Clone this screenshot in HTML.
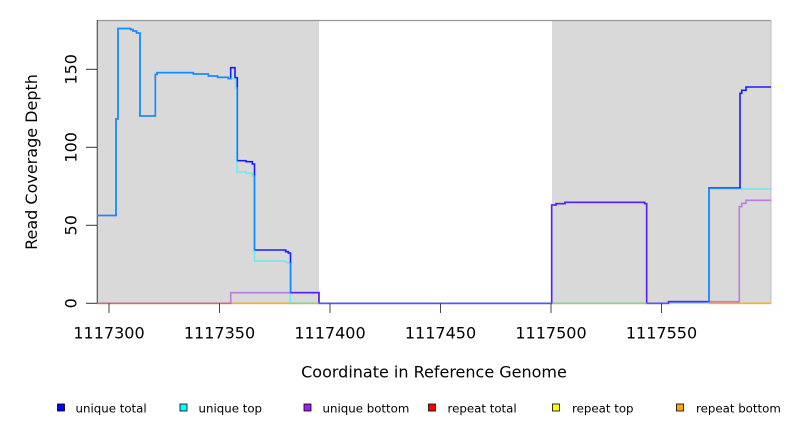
<!DOCTYPE html>
<html><head><meta charset="utf-8"><style>
html,body{margin:0;padding:0;background:#fff;}
svg{display:block;}
text{font-family:"DejaVu Sans","Liberation Sans",sans-serif;fill:#000;}
</style></head><body>
<svg width="792" height="432" viewBox="0 0 792 432" xmlns="http://www.w3.org/2000/svg">
<rect x="0" y="0" width="792" height="432" fill="#fff"/>
<!-- gray bands -->
<rect x="97" y="20.5" width="222" height="283" fill="#d9d9d9"/>
<rect x="552" y="20.5" width="219" height="283" fill="#d9d9d9"/>
<line x1="97" y1="20.5" x2="771" y2="20.5" stroke="#999" stroke-width="1.3"/>
<line x1="771" y1="20.5" x2="771" y2="303.3" stroke="#bdbdbd" stroke-width="1"/>
<line x1="97.3" y1="20" x2="97.3" y2="303.3" stroke="#555" stroke-width="1.2"/>

<!-- unique total -->
<path d="M97,215.5 H116 V119 H118 V28.5 H130.5 V29.5 H133 V31 H136.5 V33 H140 V116 H155.3 V74.3 H157 V72.7 H193.3 V74 H208.3 V76 H217.7 V77.3 H228.3 V78.7 H230.7 V67.7 H235 V77.7 H237.3 V160.7 H246 V161.7 H252.3 V164 H254.5 V250 H285.7 V251.7 H288.3 V253 H290.5 V292.7 H319 V303.3 H551.7 V205 H556 V203.7 H565 V202.3 H644.7 V203.7 H646.7 V303.3 H668.5 V301.7 H709 V188 H740 V93.3 H741.7 V90.3 H746 V87 H771" fill="none" stroke="#1a1aff" stroke-width="1.6"/>
<!-- repeat series at zero -->
<g fill="none" stroke-width="1.6" stroke-opacity="0.5">
<path d="M97,303.3 H319 M552,303.3 H647 M709,303.3 H771" stroke="#ff0000"/>
<path d="M97,303.3 H319 M552,303.3 H647 M709,303.3 H771" stroke="#ffff00"/>
<path d="M97,303.3 H319 M552,303.3 H647 M709,303.3 H771" stroke="#ffa500"/>
</g>
<!-- unique top -->
<path d="M97,215.5 H116 V119 H118 V28.5 H130.5 V29.5 H133 V31 H136.5 V33 H140 V116 H155.3 V74.3 H157 V72.7 H193.3 V74 H208.3 V76 H217.7 V77.3 H228.3 V78.7 H235.5 V88 H237 V172 H246 V173.3 H252.3 V176 H254.5 V261 H285.7 V262.3 H288.3 V263.5 H290.3 V303.3 H709 V189 H771" fill="none" stroke="#00ffff" stroke-opacity="0.5" stroke-width="1.6"/>
<!-- unique bottom -->
<path d="M97,303.3 H230.7 V292.7 H319 V303.3 H551.7 V205 H556 V203.7 H565 V202.3 H644.7 V203.7 H646.7 V303.3 H668.5 V301.7 H739.3 V206.7 H741.7 V203.3 H746 V200.3 H771" fill="none" stroke="#a020f0" stroke-opacity="0.5" stroke-width="1.6"/>

<!-- y axis ticks -->
<g stroke="#333" stroke-width="1">
<line x1="86" y1="303.3" x2="97" y2="303.3"/>
<line x1="86" y1="225.3" x2="97" y2="225.3"/>
<line x1="86" y1="147.3" x2="97" y2="147.3"/>
<line x1="86" y1="69.3" x2="97" y2="69.3"/>
</g>
<g font-size="16" text-anchor="middle">
<text transform="translate(76.5,303.3) rotate(-90)">0</text>
<text transform="translate(76.5,225.3) rotate(-90)">50</text>
<text transform="translate(76.5,147.3) rotate(-90)">100</text>
<text transform="translate(76.5,69.3) rotate(-90)">150</text>
<text transform="translate(37,162) rotate(-90)">Read Coverage Depth</text>
</g>

<!-- x axis ticks -->
<g stroke="#444" stroke-width="1">
<line x1="109" y1="303.3" x2="109" y2="313"/>
<line x1="219.5" y1="303.3" x2="219.5" y2="313"/>
<line x1="330" y1="303.3" x2="330" y2="313"/>
<line x1="440.5" y1="303.3" x2="440.5" y2="313"/>
<line x1="551" y1="303.3" x2="551" y2="313"/>
<line x1="661.5" y1="303.3" x2="661.5" y2="313"/>
</g>
<g font-size="16" text-anchor="middle">
<text x="109" y="338.3">1117300</text>
<text x="219.5" y="338.3">1117350</text>
<text x="330" y="338.3">1117400</text>
<text x="440.5" y="338.3">1117450</text>
<text x="551" y="338.3">1117500</text>
<text x="661.5" y="338.3">1117550</text>
<text x="434" y="377.3">Coordinate in Reference Genome</text>
</g>

<!-- legend -->
<g stroke="#000" stroke-width="0.8">
<rect x="57.5" y="404" width="7" height="7" fill="#0000ff"/>
<rect x="180" y="404" width="7" height="7" fill="#00ffff"/>
<rect x="304" y="404" width="7" height="7" fill="#a020f0"/>
<rect x="428.5" y="404" width="7" height="7" fill="#ff0000"/>
<rect x="552.5" y="404" width="7" height="7" fill="#ffff00"/>
<rect x="676.5" y="404" width="7" height="7" fill="#ffa500"/>
</g>
<g font-size="11.8">
<text x="75.5" y="412.7">unique total</text>
<text x="198.5" y="412.7">unique top</text>
<text x="322.5" y="412.7">unique bottom</text>
<text x="447.5" y="412.7">repeat total</text>
<text x="572" y="412.7">repeat top</text>
<text x="696" y="412.7">repeat bottom</text>
</g>
</svg>
</body></html>
